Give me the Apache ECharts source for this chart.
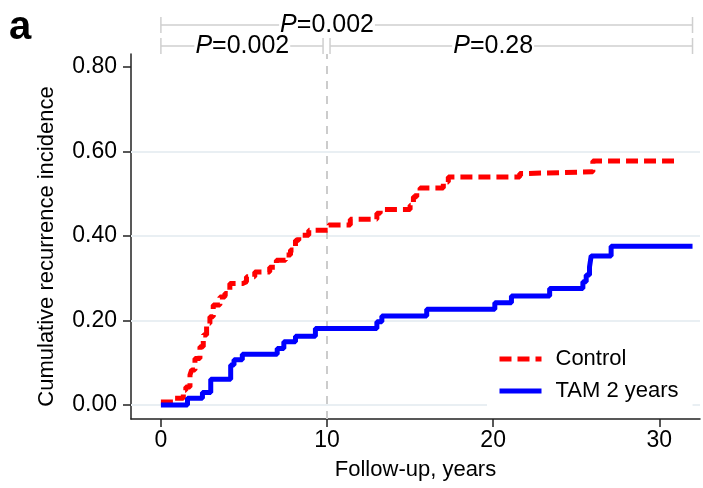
<!DOCTYPE html>
<html>
<head>
<meta charset="utf-8">
<script src="https://cdn.jsdelivr.net/npm/echarts@6/dist/echarts.min.js"></script>
<style>
html,body{margin:0;padding:0;background:#fff;}
#chart{width:703px;height:488px;}
</style>
</head>
<body>
<div id="chart"></div>
<script>
// ---- data ----
const controlTime = [0, 0.85, 1.35, 1.5, 1.75, 1.85, 2.05, 2.35, 2.55, 2.75, 2.95, 3.15, 3.55, 3.85, 4.15, 4.95, 5.15, 5.65, 6.55, 6.95, 7.5, 7.8, 8.1, 8.3, 8.9, 10.1, 11.4, 13.0, 13.2, 15.0, 15.2, 15.4, 15.6, 17.0, 17.3, 21.6, 21.8, 26.0, 31.1];
const controlCI   = [0.007, 0.016, 0.035, 0.043, 0.071, 0.083, 0.110, 0.138, 0.166, 0.193, 0.209, 0.237, 0.256, 0.264, 0.288, 0.292, 0.304, 0.315, 0.326, 0.343, 0.355, 0.367, 0.390, 0.402, 0.414, 0.426, 0.440, 0.454, 0.463, 0.473, 0.493, 0.502, 0.514, 0.528, 0.540, 0.548, 0.552, 0.578, 0.578];
const tamTime = [0, 1.6, 2.5, 3.0, 4.2, 4.4, 4.9, 7.0, 7.4, 8.1, 9.3, 13.0, 13.3, 16.0, 20.1, 21.1, 23.4, 25.4, 25.6, 25.8, 25.9, 27.1, 32.0];
const tamCI   = [0, 0.016, 0.030, 0.061, 0.095, 0.107, 0.120, 0.134, 0.150, 0.163, 0.181, 0.197, 0.211, 0.227, 0.242, 0.258, 0.276, 0.292, 0.308, 0.327, 0.353, 0.376, 0.376];
const seriesNames = ['Control', 'TAM 2 years'];
const xTicks = [0, 10, 20, 30];
const yTicks = [0, 0.2, 0.4, 0.6, 0.8];
const gridValues = [0, 0.2, 0.4, 0.6];
const cutYear = 10;
// p-value brackets: [start, end, label, label position]
const pTop = [0, 32, '0.002', 10];
const pLeft = [0, 9.76, '0.002', 4.9];
const pRight = [10.18, 32, '0.28', 20];

const FONT = '"Liberation Sans", Arial, sans-serif';
const chart = echarts.init(document.getElementById('chart'), null, {renderer: 'canvas'});
const zip = (a, b) => a.map((v, i) => [v, b[i]]);

chart.setOption({
  animation: false,
  backgroundColor: '#fff',
  grid: {left: 131, right: 3, top: 54, bottom: 69, containLabel: false},
  xAxis: {
    type: 'value', min: -1.8, max: 32.45,
    name: 'Follow-up, years', nameLocation: 'middle', nameGap: 40,
    nameTextStyle: {fontFamily: FONT, fontSize: 22, color: '#000'},
    axisLine: {show: true, onZero: false, lineStyle: {color: '#222', width: 1.5}},
    axisTick: {show: true, customValues: xTicks, length: 8, lineStyle: {color: '#222', width: 1.5}},
    axisLabel: {customValues: xTicks, fontFamily: FONT, fontSize: 23, color: '#000', margin: 10},
    splitLine: {show: false}
  },
  yAxis: {
    type: 'value', min: -0.033, max: 0.831,
    name: 'Cumulative recurrence incidence', nameLocation: 'middle', nameGap: 73,
    nameTextStyle: {fontFamily: FONT, fontSize: 22, color: '#000', padding: [0, 20, 0, 0]},
    axisLine: {show: true, onZero: false, lineStyle: {color: '#222', width: 1.5}},
    axisTick: {show: true, customValues: yTicks, length: 8, lineStyle: {color: '#222', width: 1.5}},
    axisLabel: {customValues: yTicks, fontFamily: FONT, fontSize: 23, color: '#000', margin: 14,
      formatter: v => v.toFixed(2)},
    splitLine: {show: false}
  },
  legend: {
    data: seriesNames, orient: 'vertical', left: 487, top: 338,
    backgroundColor: '#fff', padding: [10, 14, 8, 10], itemGap: 10,
    itemWidth: 42, itemHeight: 14,
    itemStyle: {opacity: 0},
    lineStyle: {width: 5},
    textStyle: {fontFamily: FONT, fontSize: 22, color: '#000', padding: [0, 0, 0, 9]}
  },
  series: [
    {
      type: 'line', name: 'ref', data: [[0, 0]], symbol: 'none', silent: true,
      lineStyle: {opacity: 0}, z: 1,
      markLine: {
        silent: true, symbol: 'none', animation: false, label: {show: false}, z: 1,
        data: gridValues.map(v => ({yAxis: v, lineStyle: {color: '#e9eff3', width: 2, type: 'solid'}}))
          .concat([{xAxis: cutYear, lineStyle: {color: '#cccccc', width: 2, type: [8, 7]}}])
      }
    },
    {
      type: 'line', name: seriesNames[0], data: zip(controlTime, controlCI), step: 'end',
      symbol: 'none', z: 3,
      lineStyle: {color: '#ff0000', width: 5, type: [12, 6], cap: 'butt'},
      itemStyle: {color: '#ff0000'}
    },
    {
      type: 'line', name: seriesNames[1], data: zip(tamTime, tamCI), step: 'end',
      symbol: 'none', z: 4,
      lineStyle: {color: '#0000ff', width: 5, type: 'solid'},
      itemStyle: {color: '#0000ff'}
    }
  ]
});

// ---- annotations positioned through the chart's own scale ----
const px = x => chart.convertToPixel({gridIndex: 0}, [x, 0])[0];
const graphics = [];
const GRAY = '#cfcfcf';
function bracket(spec, y) {
  const x0 = px(spec[0]), x1 = px(spec[1]);
  graphics.push({type: 'line', shape: {x1: x0, y1: y, x2: x1, y2: y}, style: {stroke: GRAY, lineWidth: 1.5}, z: 10});
  graphics.push({type: 'line', shape: {x1: x0, y1: y - 8, x2: x0, y2: y + 8}, style: {stroke: GRAY, lineWidth: 1.5}, z: 10});
  graphics.push({type: 'line', shape: {x1: x1, y1: y - 8, x2: x1, y2: y + 8}, style: {stroke: GRAY, lineWidth: 1.5}, z: 10});
  graphics.push({type: 'text', x: px(spec[3]), y: y, z: 11,
    style: {text: '{i|P}=' + spec[2], fontFamily: FONT, fontSize: 25, fill: '#000',
      align: 'center', verticalAlign: 'middle', backgroundColor: '#fff', padding: [0, 1],
      rich: {i: {fontStyle: 'italic', fontFamily: FONT, fontSize: 25, fill: '#000'}}}});
}
bracket(pTop, 25);
bracket(pLeft, 46);
bracket(pRight, 46);
graphics.push({type: 'text', left: 9, top: 8, z: 11,
  style: {text: 'a', fontFamily: FONT, fontSize: 40, fontWeight: 'bold', fill: '#000'}});
chart.setOption({graphic: graphics});
</script>
</body>
</html>
